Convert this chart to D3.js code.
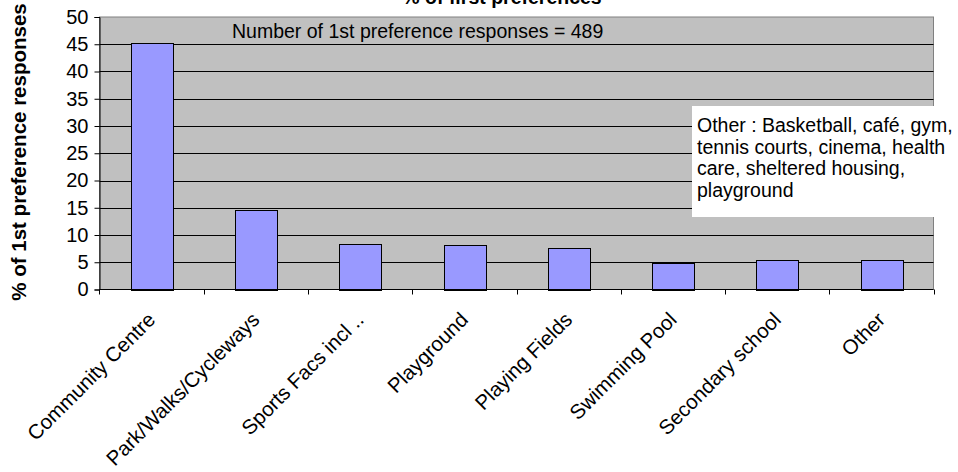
<!DOCTYPE html>
<html>
<head>
<meta charset="utf-8">
<script src="https://cdn.jsdelivr.net/npm/d3@7/dist/d3.min.js"></script>
<style>
  html, body { margin: 0; padding: 0; background: #ffffff; }
  svg { display: block; }
  text { font-family: Arial, "Liberation Sans", sans-serif; fill: #000; }
</style>
</head>
<body>
<svg id="chart" width="958" height="472"></svg>
<script>
const categories = ["Community Centre", "Park/Walks/Cycleways", "Sports Facs incl ..", "Playground", "Playing Fields", "Swimming Pool", "Secondary school", "Other"];
const values = [45.2, 14.5, 8.4, 8.2, 7.6, 4.95, 5.5, 5.5];
const yTicks = [0, 5, 10, 15, 20, 25, 30, 35, 40, 45, 50];
const chartTitle = "% of first preferences";
const yTitle = "% of 1st preference responses";
const noteText = "Number of 1st preference responses = 489";
const otherNote = ["Other : Basketball, café, gym,", "tennis courts, cinema, health", "care, sheltered housing,", "playground"];

const svg = d3.select("#chart");
const plot = { left: 99.5, right: 933.5, top: 17, bottom: 289.5 };

const x = d3.scaleBand().domain(categories).range([plot.left, plot.right]).paddingInner(0.6).paddingOuter(0.3);
const y = d3.scaleLinear().domain([0, 50]).range([plot.bottom, plot.top]);

// plot background
svg.append("rect")
  .attr("x", plot.left).attr("y", plot.top)
  .attr("width", plot.right - plot.left).attr("height", plot.bottom - plot.top)
  .attr("fill", "#c0c0c0").attr("stroke", "#808080").attr("stroke-width", 1);

// gridlines
svg.append("g").selectAll("line").data(yTicks.filter(d => d > 0 && d < 50)).join("line")
  .attr("x1", plot.left).attr("x2", plot.right)
  .attr("y1", d => Math.round(y(d)) + 0.5).attr("y2", d => Math.round(y(d)) + 0.5)
  .attr("stroke", "#000").attr("stroke-width", 1);

// bars
svg.append("g").selectAll("rect").data(categories).join("rect")
  .attr("x", d => Math.round(x(d)) + 0.5)
  .attr("y", (d, i) => Math.round(y(values[i])) + 0.5)
  .attr("width", Math.round(x.bandwidth()))
  .attr("height", (d, i) => Math.round(y(0)) - Math.round(y(values[i])))
  .attr("fill", "#9999ff").attr("stroke", "#000").attr("stroke-width", 1);

// y axis
const yAxis = svg.append("g").attr("transform", `translate(${plot.left},0)`)
  .call(d3.axisLeft(y).tickValues(yTicks).tickSize(5).tickPadding(6).tickFormat(d3.format("d")));
yAxis.select(".domain").attr("stroke", "#000");
yAxis.selectAll(".tick line").attr("stroke", "#000");
yAxis.selectAll(".tick text").attr("font-size", 20).attr("font-family", "Arial, 'Liberation Sans', sans-serif").attr("fill", "#000");

// x axis line and ticks at category boundaries
const bounds = categories.map(c => x(c) + x.bandwidth() / 2 - x.step() / 2).concat([plot.right]);
svg.append("line").attr("x1", plot.left).attr("x2", plot.right)
  .attr("y1", plot.bottom).attr("y2", plot.bottom).attr("stroke", "#000");
svg.append("g").selectAll("line").data(bounds).join("line")
  .attr("x1", d => Math.round(d) + 0.5).attr("x2", d => Math.round(d) + 0.5)
  .attr("y1", plot.bottom).attr("y2", plot.bottom + 5).attr("stroke", "#000");

// category labels
svg.append("g").selectAll("text").data(categories).join("text")
  .attr("transform", d => `translate(${x(d) + x.bandwidth() / 2 + 5},${321}) rotate(-45)`)
  .attr("text-anchor", "end")
  .attr("font-size", 20.5)
  .text(d => d);

// y title
svg.append("text")
  .attr("transform", `translate(26,${152}) rotate(-90)`)
  .attr("text-anchor", "middle")
  .attr("font-size", 20.5).attr("font-weight", "bold")
  .text(yTitle);

// chart title (clipped at top, as in the reference)
svg.append("text")
  .attr("x", 502).attr("y", 4)
  .attr("text-anchor", "middle")
  .attr("font-size", 19.5).attr("font-weight", "bold")
  .text(chartTitle);

// note inside plot
svg.append("text")
  .attr("x", 232).attr("y", 38)
  .attr("font-size", 19.5)
  .text(noteText);

// other note box
svg.append("rect")
  .attr("x", 692).attr("y", 106).attr("width", 266).attr("height", 111)
  .attr("fill", "#ffffff");
svg.append("g").selectAll("text").data(otherNote).join("text")
  .attr("x", 697)
  .attr("y", (d, i) => 132 + i * 21.5)
  .attr("font-size", 19.5)
  .text(d => d);
</script>
</body>
</html>
